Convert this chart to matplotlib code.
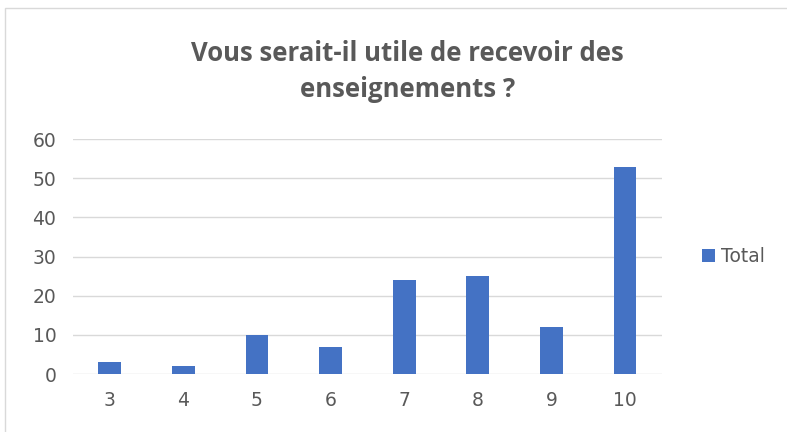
import matplotlib.pyplot as plt
from matplotlib.patches import Rectangle

categories = ['3', '4', '5', '6', '7', '8', '9', '10']
totals = [3, 2, 10, 7, 24, 25, 12, 53]
y_ticks = [0, 10, 20, 30, 40, 50, 60]

txt = '#595959'
blue = '#4472C4'

fig = plt.figure(figsize=(7.87, 4.32), dpi=100)
ax = fig.add_axes([0.0928, 0.134, 0.748, 0.544])

x = range(len(categories))
ax.bar(x, totals, width=0.31, color=blue, label='Total', zorder=3)

ax.set_xlim(-0.5, len(categories) - 0.5)
ax.set_ylim(0, 60)
ax.set_yticks(y_ticks)
ax.set_xticks(list(x))
ax.set_xticklabels(categories)
ax.yaxis.grid(True, color='#D9D9D9', linewidth=1, zorder=0)
for s in ax.spines.values():
    s.set_visible(False)
ax.tick_params(length=0, labelsize=13.5, labelcolor=txt, pad=12)
ax.tick_params(axis='y', pad=12)

fig.text(0.518, 0.835, 'Vous serait-il utile de recevoir des\nenseignements ?',
         ha='center', va='center', fontsize=18.5, fontweight='bold', color=txt,
         family='Open Sans', linespacing=1.42)

leg = ax.legend(loc='center left', bbox_to_anchor=(1.04, 0.5), frameon=False,
                fontsize=13.5, handlelength=0.7, handleheight=0.7, handletextpad=0.3)
for t in leg.get_texts():
    t.set_color(txt)

# chart frame
fig.patches.append(Rectangle((5 / 787, -0.1), 1.2, 0.1 + (432 - 8) / 432,
                             transform=fig.transFigure, fill=False,
                             edgecolor='#D9D9D9', linewidth=1))

plt.savefig('out.png', dpi=100)
